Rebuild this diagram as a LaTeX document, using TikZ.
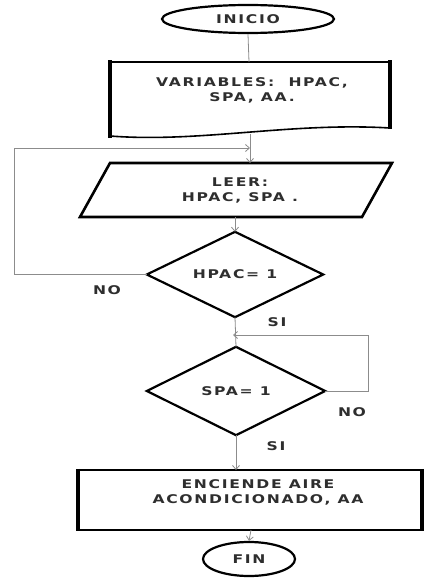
\documentclass[tikz,border=0pt]{standalone}
\usepackage{fontspec}
\usetikzlibrary{arrows.meta,shapes.geometric}
\newfontfamily\fcfont[FakeStretch=1.3,LetterSpace=14]{DejaVu Sans Bold}
\tikzset{
  x=1pt, y=-1pt,
  lbl/.style={font=\fcfont\fontsize{12}{15}\selectfont, text=black!82, align=center, inner sep=0pt},
  conn/.style={draw=black!45, line width=0.8pt},
  flow/.style={conn, -{Straight Barb[length=4pt,width=7pt]}},
  edge/.style={draw=black, line width=2.2pt, line join=miter},
  side/.style={draw=black, line width=3.6pt},
  hold/.style={draw=none, inner sep=0pt}
}
\begin{document}
\begin{tikzpicture}
\useasboundingbox (0,0) rectangle (432,578);

% start terminal
\node[ellipse, edge, minimum width=172pt, minimum height=28pt, inner sep=0pt] (ini) at (248,19) {};
\node[lbl] at (ini) {INICIO};

% declaration block (document shape)
\node[hold, minimum width=280pt, minimum height=76pt] (doc) at (250,100) {};
\draw[black, line width=1.6pt] (110,136) .. controls (200,143) and (290,122) .. (390,128);
\draw[black, line width=2.2pt] (110,62) -- (390,62);
\draw[side] (110,60.5) -- (110,137.5);
\draw[side] (390,60.5) -- (390,129);
\node[lbl] at (252,90) {VARIABLES:\ \ HPAC,\\SPA, AA.};

% input block
\node[hold, minimum width=282pt, minimum height=54pt] (leer) at (236,190) {};
\draw[edge, line width=2.6pt] (110,163) -- (392,163) -- (362,217) -- (80,217) -- cycle;
\node[lbl] at (240,190) {LEER:\\HPAC, SPA .};

% first decision
\node[hold, minimum width=176pt, minimum height=85pt] (d1) at (235,274.5) {};
\draw[edge] (d1.north) -- (d1.east) -- (d1.south) -- (d1.west) -- cycle;
\node[lbl] at (d1) {HPAC= 1};

% second decision
\node[hold, minimum width=178pt, minimum height=88pt] (d2) at (236,391) {};
\draw[edge] (d2.north) -- (d2.east) -- (d2.south) -- (d2.west) -- cycle;
\node[lbl] at (d2) {SPA= 1};

% action block
\node[hold, minimum width=344pt, minimum height=60pt] (aa) at (250,500) {};
\draw[black, line width=2pt] (aa.north west) -- (aa.north east) (aa.south west) -- (aa.south east);
\draw[side] ([yshift=1pt]aa.north west) -- ([yshift=-1pt]aa.south west);
\draw[side] ([yshift=1pt]aa.north east) -- ([yshift=-1pt]aa.south east);
\node[lbl] at (258,492) {ENCIENDE AIRE\\ACONDICIONADO, AA};

% end terminal
\node[ellipse, edge, minimum width=92pt, minimum height=34pt, inner sep=0pt] (fin) at (249,559) {};
\node[lbl] at (fin) {FIN};

% junction points on the main line
\coordinate (j1) at (250,148);
\coordinate (j2) at (233,335);
\coordinate (k1) at (14,274.5);
\coordinate (k2) at (14,148);
\coordinate (m1) at (368,391);
\coordinate (m2) at (368,335);

% main flow
\draw[conn] (ini.south) -- (249,62);
\draw[flow] (250,134) -- (250,163);
\draw[flow] (235,217) -- (d1.north);
\draw[conn] (d1.south) -- (d2.north);
\draw[flow] (d2.south) -- (236,470);
\draw[flow] (251,530) -- (fin.north);

% loops back
\draw[flow] (d1.west) -- (k1) -- (k2) -- (j1);
\draw[flow] (d2.east) -- (m1) -- (m2) -- (j2);

% branch labels
\node[lbl] at (107,290) {NO};
\node[lbl] at (277,322) {SI};
\node[lbl] at (352,412) {NO};
\node[lbl] at (276,446) {SI};
\end{tikzpicture}
\end{document}
